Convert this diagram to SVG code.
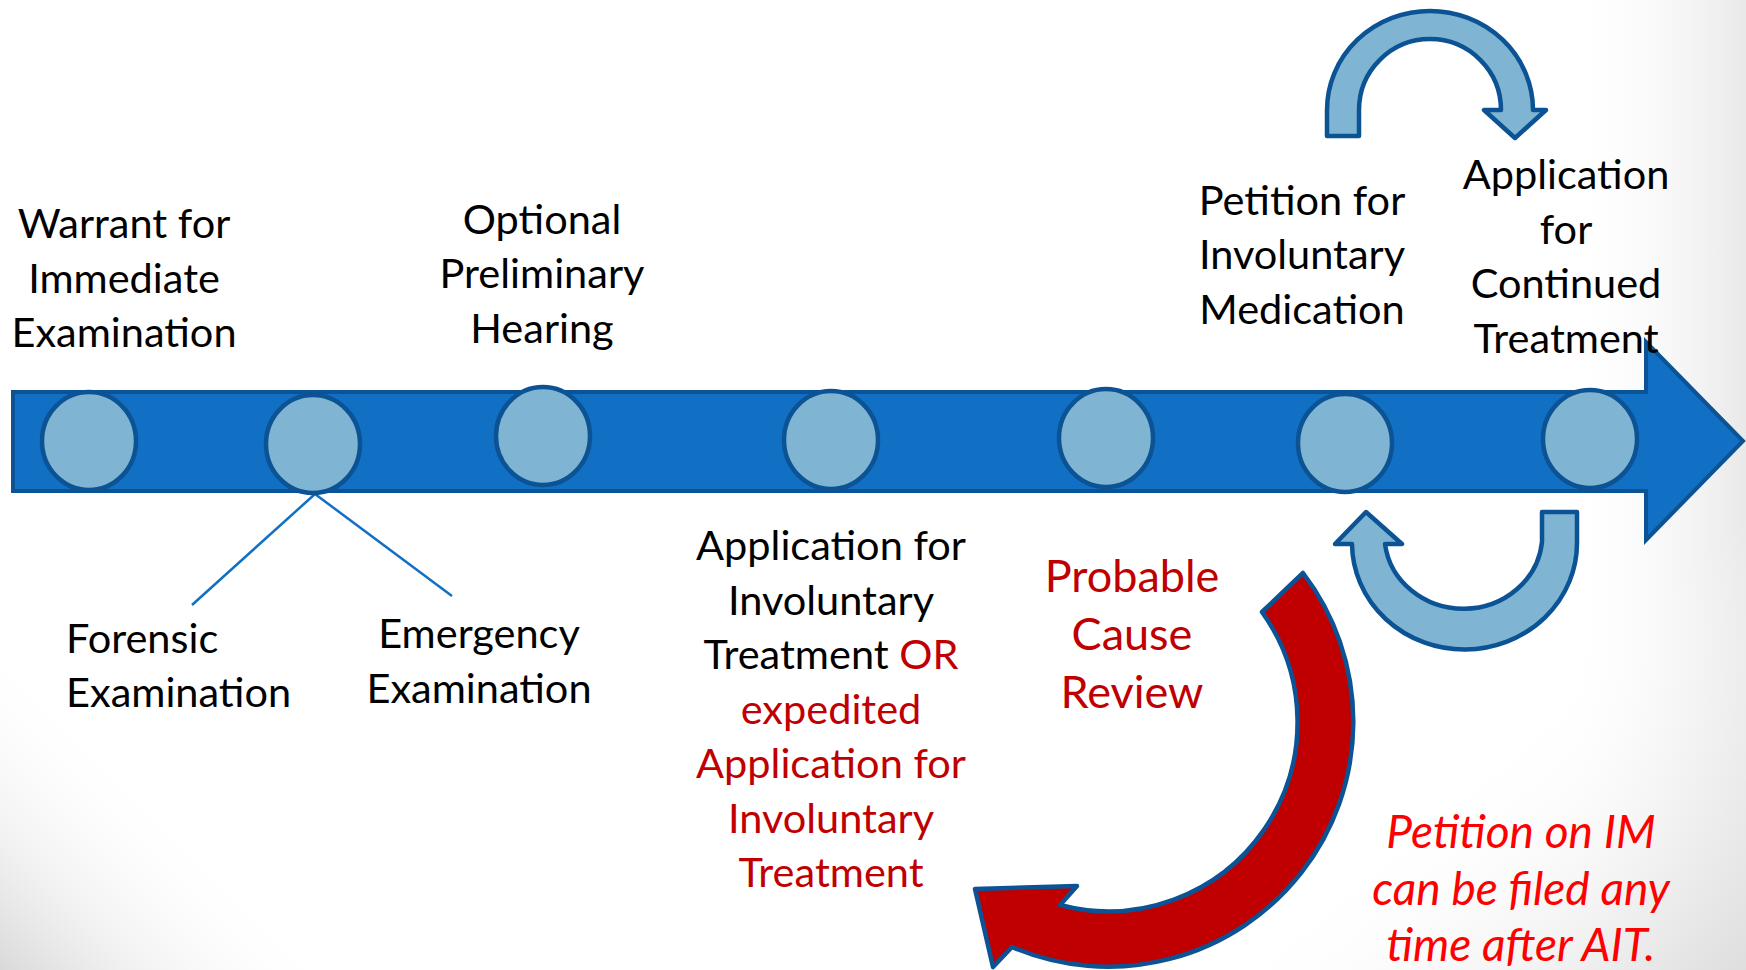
<svg xmlns="http://www.w3.org/2000/svg" width="1746" height="970" viewBox="0 0 1746 970">
  <defs>
    <linearGradient id="shadeCornerBL" gradientUnits="userSpaceOnUse" x1="0" y1="970" x2="170" y2="800">
      <stop offset="0" stop-color="#d9d9d9"/>
      <stop offset="1" stop-color="#ffffff" stop-opacity="0"/>
    </linearGradient>
    <linearGradient id="shadeRight" gradientUnits="userSpaceOnUse" x1="1560" y1="0" x2="1746" y2="0">
      <stop offset="0" stop-color="#ffffff" stop-opacity="0"/>
      <stop offset="1" stop-color="#e9e9e9"/>
    </linearGradient>
    <linearGradient id="shadeBR" gradientUnits="userSpaceOnUse" x1="1520" y1="700" x2="1746" y2="970">
      <stop offset="0" stop-color="#ffffff" stop-opacity="0"/>
      <stop offset="1" stop-color="#dedede"/>
    </linearGradient>
    <style>
      .bar { fill: #1170C4; stroke: #0B5394; stroke-width: 4; stroke-linejoin: miter; }
      .dot { fill: #7FB5D2; stroke: #0B5394; stroke-width: 4.5; }
      .loop { fill: #7FB5D2; stroke: #0B5394; stroke-width: 4.5; stroke-linejoin: round; }
      .review { fill: #C00000; stroke: #0B5394; stroke-width: 4.5; stroke-linejoin: round; }
      .branch { stroke: #1170C4; stroke-width: 2.5; fill: none; }
      .lbl { font-family: Lato, "Liberation Sans", sans-serif; font-size: 41.5px; fill: #000000; text-anchor: middle; }
      .left { text-anchor: start; }
      .red { fill: #C00000; }
      .big { font-size: 45px; }
      .note { font-family: Lato, "Liberation Sans", sans-serif; font-size: 46px; font-style: italic; fill: #FF0000; text-anchor: middle; }
    </style>
  </defs>

  <!-- page background with soft corner shading -->
  <rect x="0" y="0" width="1746" height="970" fill="#ffffff"/>
  <rect x="0" y="0" width="1746" height="970" fill="url(#shadeCornerBL)"/>
  <rect x="0" y="0" width="1746" height="970" fill="url(#shadeRight)"/>
  <rect x="0" y="0" width="1746" height="970" fill="url(#shadeBR)"/>

  <!-- timeline arrow -->
  <g id="timeline">
    <path class="bar" d="M 13 392 L 1646 392 L 1646 342 L 1743 441 L 1646 540 L 1646 491 L 13 491 Z"/>
  </g>

  <!-- connectors: branch lines and curved arrows -->
  <g id="connectors">
    <line class="branch" x1="315" y1="494" x2="192" y2="605"/>
    <line class="branch" x1="315" y1="494" x2="452" y2="596"/>
    <path id="loop-top" class="loop" d="M 1327 136 L 1327 110 A 103 99 0 0 1 1533 110 L 1546 110 L 1515 138 L 1484 110 L 1501 110 A 71 71 0 0 0 1359 110 L 1359 136 Z"/>
    <path id="loop-bottom" class="loop" d="M 1577 512 L 1577 542 A 112 106 0 0 1 1352 544 L 1335 544 L 1366 512 L 1402 544 L 1385 544 A 79 74 0 0 0 1542 542 L 1542 512 Z"/>
    <path id="review-arrow" class="review" d="M 1303 573 A 245 245 0 0 1 1012 947 L 993 967 L 975 889 L 1077 886 L 1060 905 A 189 189 0 0 0 1262 612 Z"/>
  </g>

  <!-- stage markers -->
  <g id="node-warrant">
    <ellipse class="dot" cx="89" cy="441" rx="47" ry="49"/>
    <text class="lbl" x="124" y="238">Warrant for</text>
    <text class="lbl" x="124" y="293">Immediate</text>
    <text class="lbl" x="124" y="347">Examination</text>
  </g>
  <g id="node-exams">
    <ellipse class="dot" cx="313" cy="444" rx="47" ry="49"/>
  </g>
  <g id="node-forensic">
    <text class="lbl left" x="66" y="653">Forensic</text>
    <text class="lbl left" x="66" y="707">Examination</text>
  </g>
  <g id="node-emergency">
    <text class="lbl" x="479" y="648">Emergency</text>
    <text class="lbl" x="479" y="703">Examination</text>
  </g>
  <g id="node-preliminary">
    <ellipse class="dot" cx="543" cy="436" rx="47" ry="49"/>
    <text class="lbl" x="542" y="234">Optional</text>
    <text class="lbl" x="542" y="288">Preliminary</text>
    <text class="lbl" x="542" y="343">Hearing</text>
  </g>
  <g id="node-ait">
    <ellipse class="dot" cx="831" cy="440" rx="47" ry="49"/>
    <text class="lbl" x="831" y="560">Application for</text>
    <text class="lbl" x="831" y="615">Involuntary</text>
    <text class="lbl" x="831" y="669">Treatment <tspan class="red">OR</tspan></text>
    <text class="lbl red" x="831" y="724">expedited</text>
    <text class="lbl red" x="831" y="778">Application for</text>
    <text class="lbl red" x="831" y="833">Involuntary</text>
    <text class="lbl red" x="831" y="887">Treatment</text>
  </g>
  <g id="node-review">
    <ellipse class="dot" cx="1106" cy="438" rx="47" ry="49"/>
    <text class="lbl red big" x="1132" y="592">Probable</text>
    <text class="lbl red big" x="1132" y="650">Cause</text>
    <text class="lbl red big" x="1132" y="708">Review</text>
  </g>
  <g id="node-medication">
    <ellipse class="dot" cx="1345" cy="443" rx="47" ry="49"/>
    <text class="lbl" x="1302" y="215">Petition for</text>
    <text class="lbl" x="1302" y="269">Involuntary</text>
    <text class="lbl" x="1302" y="324">Medication</text>
  </g>
  <g id="node-continued">
    <ellipse class="dot" cx="1590" cy="439" rx="47" ry="49"/>
    <text class="lbl" x="1566" y="189">Application</text>
    <text class="lbl" x="1566" y="244">for</text>
    <text class="lbl" x="1566" y="298">Continued</text>
    <text class="lbl" x="1566" y="353">Treatment</text>
  </g>
  <g id="node-note">
    <text class="note" x="1521" y="848">Petition on IM</text>
    <text class="note" x="1521" y="905">can be filed any</text>
    <text class="note" x="1521" y="961">time after AIT.</text>
  </g>
</svg>
